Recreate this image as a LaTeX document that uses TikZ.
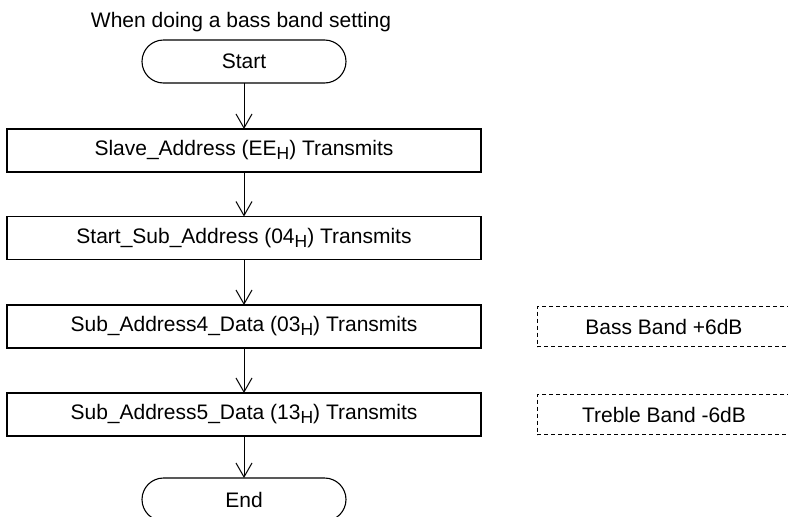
\documentclass[tikz,border=0pt]{standalone}
\usepackage{fontspec}
\setmainfont{Liberation Sans}
\usetikzlibrary{positioning,arrows.meta}
\newcommand{\hsub}{\raisebox{-4pt}{\fontsize{17.5}{20}\selectfont H}}
\begin{document}
\begin{tikzpicture}[x=1pt,y=-1pt,
    font=\fontsize{21}{25}\selectfont,
    terminal/.style={draw,line width=1.1pt,outer sep=0pt,rounded corners=21.5pt,minimum width=204pt,minimum height=43pt,inner sep=0pt},
    stepbox/.style={draw,line width=1.3pt,outer sep=0pt,minimum width=474pt,minimum height=43pt,inner sep=0pt},
    notebox/.style={draw,line width=1pt,outer sep=0pt,dash pattern=on 4pt off 3pt,minimum width=254pt,minimum height=40pt,inner sep=0pt},
    flow/.style={-{Straight Barb[length=14pt,width=16pt]},line width=1pt},
    node distance=45pt]
  \useasboundingbox (0,0) rectangle (788,517);
  \clip (0,0) rectangle (788,517);
  \node[anchor=base] (title) at (241,27) {When doing a bass band setting};
  \node[terminal] (start) at (244,61.5) {Start};
  \node[stepbox, below=46pt of start] (slave) {Slave\_Address (EE\hsub) Transmits};
  \node[stepbox, below=44.5pt of slave] (subaddr) {Start\_Sub\_Address (04\hsub) Transmits};
  \node[stepbox, below=45.5pt of subaddr] (data4) {Sub\_Address4\_Data (03\hsub) Transmits};
  \node[stepbox, below=of data4] (data5) {Sub\_Address5\_Data (13\hsub) Transmits};
  \node[terminal, below=42pt of data5] (end) {End};
  % remarks on the right
  \node[notebox, right=56pt of data4] (bass) {Bass Band +6dB};
  \node[notebox, right=56pt of data5] (treble) {Treble Band -6dB};
  % flow
  \draw[flow] (start) -- (slave);
  \draw[flow] (slave) -- (subaddr);
  \draw[flow] (subaddr) -- (data4);
  \draw[flow] (data4) -- (data5);
  \draw[flow] (data5) -- (end);
\end{tikzpicture}
\end{document}
